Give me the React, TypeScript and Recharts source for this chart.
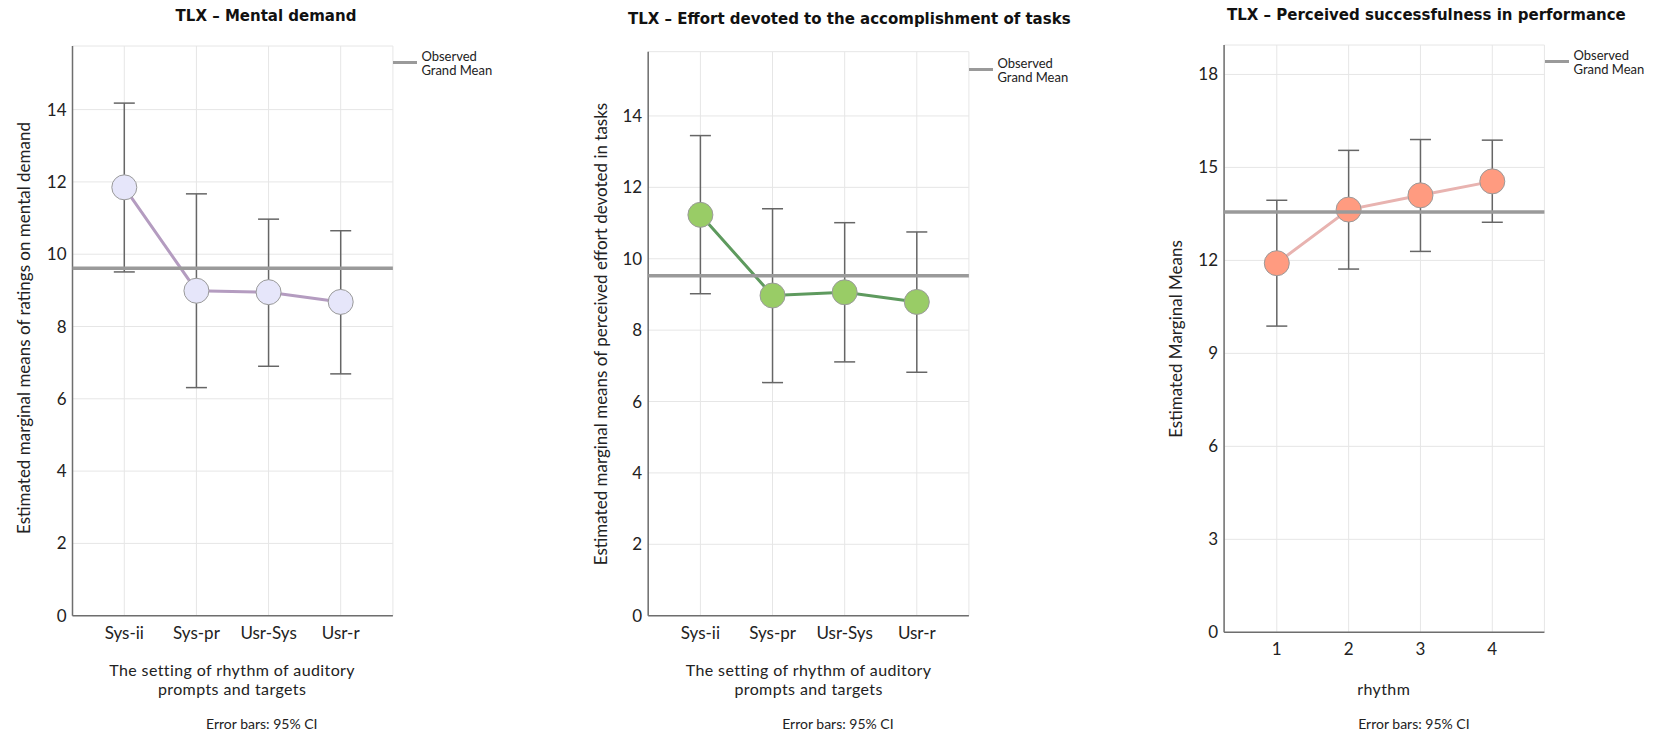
import React from 'react'
import {
  LineChart,
  Line,
  XAxis,
  YAxis,
  CartesianGrid,
  ErrorBar,
  ReferenceLine,
} from 'recharts'

// rhythm settings used by the first two panels
const rhythmSettings = ['Sys-ii', 'Sys-pr', 'Usr-Sys', 'Usr-r']

// TLX - Mental demand
const mentalMeans = [11.85, 8.99, 8.95, 8.68]
const mentalLower = [9.51, 6.31, 6.9, 6.69]
const mentalUpper = [14.18, 11.67, 10.97, 10.65]
const mentalGrandMean = 9.61

// TLX - Effort devoted
const effortMeans = [11.23, 8.97, 9.06, 8.79]
const effortLower = [9.02, 6.53, 7.11, 6.82]
const effortUpper = [13.45, 11.4, 11.01, 10.75]
const effortGrandMean = 9.52

// TLX - Perceived successfulness
const rhythmLevels = ['1', '2', '3', '4']
const successMeans = [11.91, 13.64, 14.1, 14.55]
const successLower = [9.88, 11.72, 12.29, 13.23]
const successUpper = [13.94, 15.55, 15.9, 15.88]
const successGrandMean = 13.56

const evenTicks = [0, 2, 4, 6, 8, 10, 12, 14]
const thirdTicks = [0, 3, 6, 9, 12, 15, 18]

const FONT = 'Lato, "Noto Sans", sans-serif'
const TITLE_FONT = '"DejaVu Sans", Verdana, sans-serif'
const GRAND_MEAN_COLOR = '#9a9a9a'

const buildRows = (names: string[], means: number[], lo: number[], hi: number[]) =>
  names.map((name, i) => ({
    name,
    mean: means[i],
    err: [means[i] - lo[i], hi[i] - means[i]],
  }))

type PanelProps = {
  left: number
  width: number
  margin: { top: number; right: number; bottom: number; left: number }
  yMax: number
  ticks: number[]
  pad: { left: number; right: number }
  rows: { name: string; mean: number; err: number[] }[]
  grandMean: number
  lineColor: string
  dotColor: string
}

const Panel: React.FC<PanelProps> = (p) => (
  <div style={{ position: 'absolute', left: p.left, top: 0 }}>
    <LineChart width={p.width} height={735} data={p.rows} margin={p.margin}>
      <CartesianGrid stroke="#e6e6e6" strokeWidth={1} />
      <XAxis
        dataKey="name"
        padding={p.pad}
        height={30}
        tickLine={false}
        tickMargin={5}
        stroke="#6e6e6e"
        strokeWidth={1.5}
        tick={{ fontSize: 17, fill: '#222', fontFamily: FONT }}
      />
      <YAxis
        width={60}
        domain={[0, p.yMax]}
        ticks={p.ticks}
        interval={0}
        allowDataOverflow
        tickLine={false}
        tickSize={4}
        tickMargin={2}
        stroke="#6e6e6e"
        strokeWidth={1.5}
        tick={{ fontSize: 17, fill: '#222', fontFamily: FONT }}
      />
      {/* error bars first so the markers sit on top of them */}
      <Line
        dataKey="mean"
        stroke="none"
        dot={false}
        activeDot={false}
        isAnimationActive={false}
      >
        <ErrorBar
          dataKey="err"
          direction="y"
          width={10.5}
          stroke="#666"
          strokeWidth={1.5}
          isAnimationActive={false}
        />
      </Line>
      <Line
        dataKey="mean"
        stroke={p.lineColor}
        strokeWidth={3}
        isAnimationActive={false}
        dot={{ r: 12.5, fill: p.dotColor, stroke: '#9a9a9a', strokeWidth: 1 }}
        activeDot={false}
      />
      <ReferenceLine
        y={p.grandMean}
        stroke={GRAND_MEAN_COLOR}
        strokeWidth={3.5}
        zIndex={1000}
      />
    </LineChart>
  </div>
)

const Text: React.FC<{
  x: number
  y: number
  size: number
  bold?: boolean
  rotate?: boolean
  font?: string
  spacing?: number
  children: React.ReactNode
}> = ({ x, y, size, bold, rotate, font, spacing, children }) => (
  <div
    style={{
      position: 'absolute',
      left: x,
      top: y,
      transform: `translate(-50%, -50%)${rotate ? ' rotate(-90deg)' : ''}`,
      whiteSpace: 'nowrap',
      fontFamily: font || FONT,
      fontWeight: bold ? 700 : 400,
      fontSize: size,
      letterSpacing: spacing || 0,
      color: bold ? '#111' : '#222',
      textAlign: 'center',
    }}
  >
    {children}
  </div>
)

const GrandMeanKey: React.FC<{ x: number; y: number }> = ({ x, y }) => (
  <div style={{ position: 'absolute', left: x, top: y - 14 }}>
    <div
      style={{
        position: 'absolute',
        left: 0,
        top: 12.5,
        width: 24,
        height: 3,
        background: GRAND_MEAN_COLOR,
      }}
    />
    <div
      style={{
        position: 'absolute',
        left: 28.5,
        top: 0.5,
        fontFamily: FONT,
        fontSize: 13,
        lineHeight: '14.8px',
        color: '#222',
        whiteSpace: 'nowrap',
      }}
    >
      Observed
      <br />
      Grand Mean
    </div>
  </div>
)

const AxisTitle: React.FC<{ x: number; lines: string[] }> = ({ x, lines }) => (
  <>
    {lines.map((line, i) => (
      <Text
        key={line}
        x={x}
        y={688 - (lines.length - 1 - i) * 19}
        size={16}
        spacing={0.4}
      >
        {line}
      </Text>
    ))}
  </>
)

const settingTitle = ['The setting of rhythm of auditory', 'prompts and targets']

export default function App() {
  return (
    <div
      style={{
        position: 'absolute',
        left: 0,
        top: 0,
        width: 1664,
        height: 735,
        background: '#fff',
        overflow: 'hidden',
      }}
    >
      <Panel
        left={0}
        width={560}
        margin={{ top: 46, right: 167.1, bottom: 89.3, left: 12.5 }}
        yMax={15.76}
        ticks={evenTicks}
        pad={{ left: 51.8, right: 52.2 }}
        rows={buildRows(rhythmSettings, mentalMeans, mentalLower, mentalUpper)}
        grandMean={mentalGrandMean}
        lineColor="#b49cc0"
        dotColor="#e6e6fa"
      />
      <Panel
        left={560}
        width={560}
        margin={{ top: 51.7, right: 151.1, bottom: 89.3, left: 28.2 }}
        yMax={15.8}
        ticks={evenTicks}
        pad={{ left: 52.2, right: 52.1 }}
        rows={buildRows(rhythmSettings, effortMeans, effortLower, effortUpper)}
        grandMean={effortGrandMean}
        lineColor="#5e9a5e"
        dotColor="#99cc66"
      />
      <Panel
        left={1120}
        width={544}
        margin={{ top: 45, right: 119.6, bottom: 72.7, left: 44.1 }}
        yMax={18.95}
        ticks={thirdTicks}
        pad={{ left: 52.7, right: 52.1 }}
        rows={buildRows(rhythmLevels, successMeans, successLower, successUpper)}
        grandMean={successGrandMean}
        lineColor="#e8b3b0"
        dotColor="#ff9b80"
      />

      <Text x={266} y={16} size={15} bold font={TITLE_FONT}>
        TLX – Mental demand
      </Text>
      <Text x={849.3} y={19} size={15} bold font={TITLE_FONT}>
        TLX – Effort devoted to the accomplishment of tasks
      </Text>
      <Text x={1426.4} y={15} size={15} bold font={TITLE_FONT}>
        TLX – Perceived successfulness in performance
      </Text>

      <Text x={23.2} y={328} size={17} rotate>
        Estimated marginal means of ratings on mental demand
      </Text>
      <Text x={600} y={333.7} size={17} rotate>
        Estimated marginal means of perceived effort devoted in tasks
      </Text>
      <Text x={1175.2} y={338.5} size={17} rotate>
        Estimated Marginal Means
      </Text>

      <AxisTitle x={232.1} lines={settingTitle} />
      <AxisTitle x={808.6} lines={settingTitle} />
      <AxisTitle x={1383.7} lines={['rhythm']} />

      <Text x={261.8} y={722.7} size={14}>
        Error bars: 95% CI
      </Text>
      <Text x={837.9} y={722.7} size={14}>
        Error bars: 95% CI
      </Text>
      <Text x={1413.9} y={722.7} size={14}>
        Error bars: 95% CI
      </Text>

      <GrandMeanKey x={392.9} y={62} />
      <GrandMeanKey x={968.9} y={69} />
      <GrandMeanKey x={1545} y={61} />
    </div>
  )
}
